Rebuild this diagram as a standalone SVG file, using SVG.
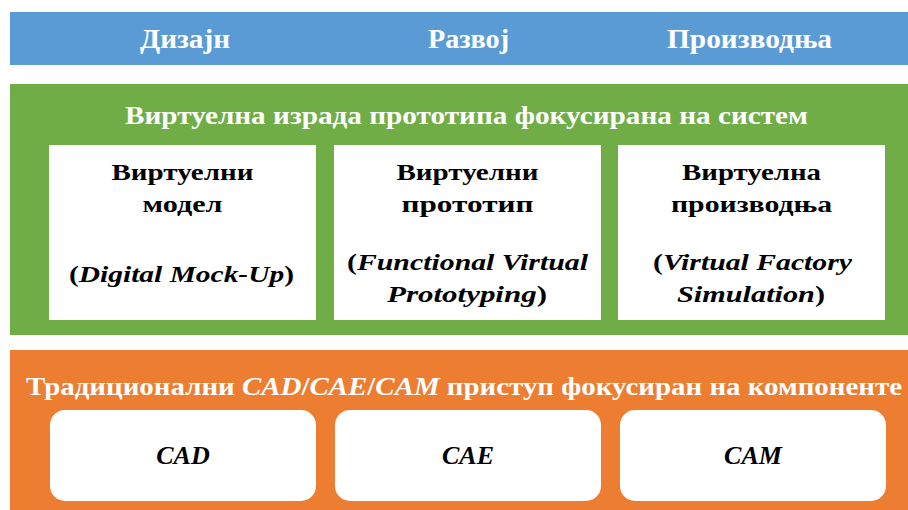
<svg xmlns="http://www.w3.org/2000/svg" width="908" height="510" viewBox="0 0 908 510">
<style>
text{font-family:"Liberation Serif","DejaVu Serif",serif;font-weight:bold;text-anchor:middle}
.w{fill:#ffffff}
.k{fill:#000000}
.h{font-size:27px}
.t{font-size:26px}
.b{font-size:24px}
.i{font-style:italic}
.box{fill:#ffffff}
</style>
<rect width="908" height="510" fill="#ffffff"/>
<g id="phases">
<rect x="10" y="12" width="898" height="53" fill="#5B9BD5"/>
<text class="w h" x="185" y="48" textLength="90" lengthAdjust="spacingAndGlyphs">Дизајн</text>
<text class="w h" x="468.5" y="48" textLength="81" lengthAdjust="spacingAndGlyphs">Развој</text>
<text class="w h" x="749.5" y="48" textLength="165" lengthAdjust="spacingAndGlyphs">Производња</text>
</g>
<g id="system">
<rect x="10" y="84" width="898" height="251" fill="#70AD47"/>
<text class="w t" x="466.5" y="124" textLength="683" lengthAdjust="spacingAndGlyphs">Виртуелна израда прототипа фокусирана на систем</text>
</g>
<g id="virtual-model">
<rect class="box" x="49" y="145" width="267" height="175"/>
<text class="k b" x="182.5" y="180" textLength="142" lengthAdjust="spacingAndGlyphs">Виртуелни</text>
<text class="k b" x="182.5" y="212" textLength="80" lengthAdjust="spacingAndGlyphs">модел</text>
<text class="k b" x="181.5" y="282" textLength="225" lengthAdjust="spacingAndGlyphs">(<tspan class="i">Digital Mock-Up</tspan>)</text>
</g>
<g id="virtual-prototype">
<rect class="box" x="334" y="145" width="267" height="175"/>
<text class="k b" x="467.5" y="180" textLength="142" lengthAdjust="spacingAndGlyphs">Виртуелни</text>
<text class="k b" x="467.5" y="212" textLength="132" lengthAdjust="spacingAndGlyphs">прототип</text>
<text class="k b" x="467.5" y="270" textLength="241" lengthAdjust="spacingAndGlyphs">(<tspan class="i">Functional Virtual</tspan></text>
<text class="k b" x="467" y="302" textLength="160" lengthAdjust="spacingAndGlyphs"><tspan class="i">Prototyping</tspan>)</text>
</g>
<g id="virtual-production">
<rect class="box" x="618" y="145" width="267" height="175"/>
<text class="k b" x="751.5" y="180" textLength="139" lengthAdjust="spacingAndGlyphs">Виртуелна</text>
<text class="k b" x="751.5" y="212" textLength="161" lengthAdjust="spacingAndGlyphs">производња</text>
<text class="k b" x="752.5" y="270" textLength="199" lengthAdjust="spacingAndGlyphs">(<tspan class="i">Virtual Factory</tspan></text>
<text class="k b" x="751" y="302" textLength="148" lengthAdjust="spacingAndGlyphs"><tspan class="i">Simulation</tspan>)</text>
</g>
<g id="traditional">
<rect x="10" y="350" width="898" height="160" fill="#ED7D31"/>
<text class="w t" x="464" y="395" textLength="876" lengthAdjust="spacingAndGlyphs">Традиционални <tspan class="i">CAD</tspan>/<tspan class="i">CAE</tspan>/<tspan class="i">CAM</tspan> приступ фокусиран на компоненте</text>
</g>
<g id="cad">
<rect class="box" x="50" y="410" width="266" height="91" rx="15"/>
<text class="k t i" x="183" y="464">CAD</text>
</g>
<g id="cae">
<rect class="box" x="335" y="410" width="266" height="91" rx="15"/>
<text class="k t i" x="468" y="464">CAE</text>
</g>
<g id="cam">
<rect class="box" x="620" y="410" width="266" height="91" rx="15"/>
<text class="k t i" x="753" y="464">CAM</text>
</g>
<g id="connectors"></g>
</svg>
